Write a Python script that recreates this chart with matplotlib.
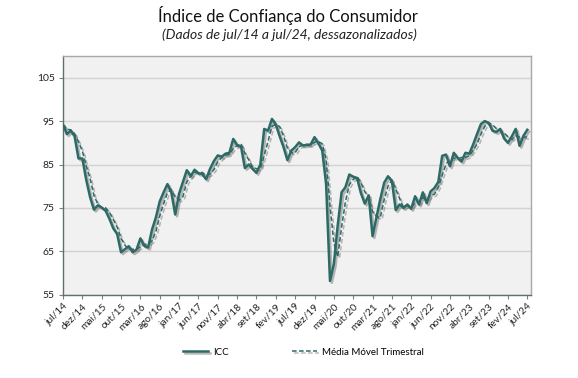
import pandas as pd
import matplotlib.pyplot as plt
import matplotlib.patheffects as pe

plt.rcParams['font.family'] = ['Lato', 'DejaVu Sans']

# ICC mensal, jul/14 a jul/24 (dessazonalizado)
icc = [94.2, 92.0, 92.8, 91.5, 86.4, 86.4, 81.5, 77.5, 74.6, 75.6,
       75.1, 74.4, 72.5, 70.3, 69.0, 64.8, 65.5, 66.2, 64.8, 65.4,
       68.0, 66.3, 65.9, 70.0, 72.8, 76.5, 78.6, 80.5, 78.6, 73.5,
       78.3, 81.0, 83.7, 82.3, 83.8, 83.0, 82.8, 81.6, 84.0, 85.8,
       87.1, 86.8, 87.5, 87.7, 90.9, 89.4, 89.2, 84.2, 85.0, 84.0,
       83.1, 85.0, 93.2, 92.8, 95.5, 94.2, 91.5, 89.0, 86.0, 88.2,
       89.0, 90.1, 89.4, 89.5, 89.6, 91.3, 89.9, 88.2, 80.5, 58.2,
       62.1, 71.0, 78.6, 79.8, 82.7, 82.2, 81.9, 78.4, 76.0, 77.9,
       68.5, 72.8, 77.0, 80.8, 82.3, 81.2, 74.5, 75.8, 75.0, 75.8,
       74.8, 77.7, 75.8, 78.6, 76.1, 78.8, 79.6, 81.0, 87.0, 87.3,
       84.6, 87.7, 86.5, 85.7, 87.7, 87.5, 89.6, 92.0, 94.3, 95.0,
       94.6, 92.8, 92.5, 93.2, 91.0, 90.0, 91.5, 93.2, 89.3, 91.6,
       93.0]
meses = list(range(len(icc)))
media_movel = pd.Series(icc).rolling(3, min_periods=1).mean()

rotulos_x = ['jul/14', 'dez/14', 'mai/15', 'out/15', 'mar/16', 'ago/16',
             'jan/17', 'jun/17', 'nov/17', 'abr/18', 'set/18', 'fev/19',
             'jul/19', 'dez/19', 'mai/20', 'out/20', 'mar/21', 'ago/21',
             'jan/22', 'jun/22', 'nov/22', 'abr/23', 'set/23', 'fev/24',
             'jul/24']
ticks_y = [55, 65, 75, 85, 95, 105]

cor = '#2c6a66'
sombra = [pe.SimpleLineShadow(offset=(1.3, -1.3), shadow_color='#555555', alpha=0.4),
          pe.Normal()]

fig = plt.figure(figsize=(5.78, 3.78), dpi=100)
ax = fig.add_axes([0.109, 0.22, 0.81, 0.632])
ax.set_facecolor('#f1f1f1')

ax.plot(meses, icc, color=cor, lw=1.8, label='ICC', path_effects=sombra, zorder=3)
ax.plot(meses, media_movel, color=cor, lw=1.1, ls=(0, (3, 1.6)),
        label='Média Móvel Trimestral', path_effects=sombra, zorder=4)

ax.set_xlim(0, 121)
ax.set_ylim(55, 110)
ax.set_yticks(ticks_y)
ax.tick_params(axis='y', labelsize=7.5, length=3, color='#808080', pad=3, labelcolor='#222222')
ax.set_xticks(range(0, 121, 5))
ax.set_xticklabels(rotulos_x, rotation=45, ha='right', rotation_mode='anchor')
ax.tick_params(axis='x', labelsize=7.3, length=3, color='#808080', pad=2, labelcolor='#222222')
ax.grid(axis='y', color='#d2d2d2', lw=1.0)
ax.set_axisbelow(True)

for lado in ['left', 'bottom']:
    ax.spines[lado].set_color('#5f6f6e')
    ax.spines[lado].set_linewidth(1.0)
for lado in ['top', 'right']:
    ax.spines[lado].set_color('#a8a8a8')
    ax.spines[lado].set_linewidth(1.0)

fig.text(0.499, 0.96, 'Índice de Confiança do Consumidor', ha='center', va='center',
         fontsize=12, color='#111111')
fig.text(0.5, 0.907, '(Dados de jul/14 a jul/24, dessazonalizados)', ha='center', va='center',
         fontsize=10, style='italic', color='#222222')

fig.legend(loc='center', bbox_to_anchor=(0.525, 0.068), ncol=2, frameon=False,
           fontsize=7, handlelength=2.6, columnspacing=6.5, handletextpad=0.5)

fig.savefig('out.png', dpi=100)
